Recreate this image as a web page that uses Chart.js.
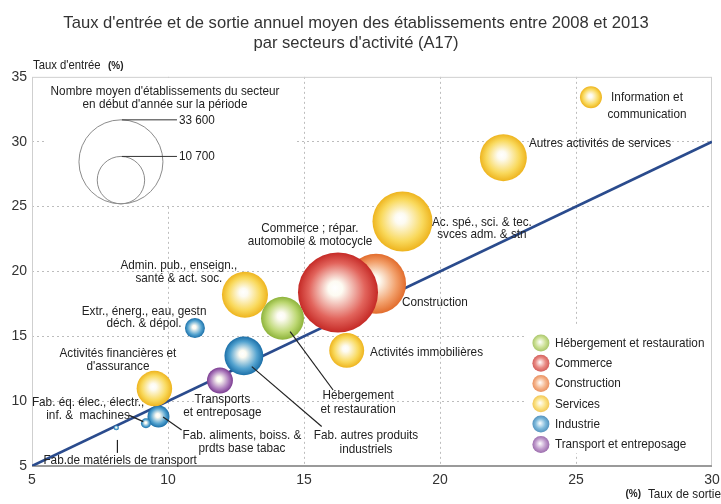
<!DOCTYPE html>
<html lang="fr">
<head>
<meta charset="utf-8">
<title>Taux d'entrée et de sortie des établissements</title>
<script src="https://cdn.jsdelivr.net/npm/chart.js@4.4.1/dist/chart.umd.min.js"></script>
<style>
  html, body { margin: 0; padding: 0; background: #fff; }
  #wrap { width: 721px; height: 504px; }
</style>
</head>
<body>
<div id="wrap"><canvas id="chart" width="721" height="504"></canvas></div>
<script>
// ---- data ----
const groups = ['Hébergement et restauration', 'Commerce', 'Construction', 'Services', 'Industrie', 'Transport et entreposage'];

const sectors = [
    'Information et communication',
    'Autres activités de services',
    'Ac. spé., sci. & tec. svces adm. & stn',
    'Commerce ; répar. automobile & motocycle',
    'Construction',
    'Admin. pub., enseign., santé & act. soc.',
    'Hébergement et restauration',
    'Activités immobilières',
    'Extr., énerg., eau, gestn déch. & dépol.',
    'Fab. autres produits industriels',
    'Transports et entreposage',
    'Activités financières et d\'assurance',
    'Fab. aliments, boiss. & prdts base tabac',
    'Fab. éq. élec., électr., inf. & machines',
    'Fab.de matériels de transport'
];
const sectorGroup    = [3, 3, 3, 1, 2, 3, 0, 3, 4, 4, 5, 3, 4, 4, 4];
const exitRate       = [25.55, 22.33, 18.62, 16.25, 17.65, 12.83, 14.21, 16.57, 10.99, 12.79, 11.91, 9.50, 9.65, 9.19, 8.10];
const entryRate      = [33.43, 28.77, 23.85, 18.38, 19.05, 18.20, 16.39, 13.91, 15.63, 13.49, 11.59, 10.97, 8.81, 8.30, 7.95];
const establishments = [2300, 10500, 17100, 30500, 17100, 10100, 8800, 5800, 1900, 7200, 3200, 6000, 2300, 480, 120];

const sizeRefs = [33600, 10700];
const diagonal = [5, 30];
const xTicks = [5, 10, 15, 20, 25, 30];
const yTicks = [5, 10, 15, 20, 25, 30, 35];

// ---- styling ----
const groupColors = [
    { mid: '#bcd772', edge: '#8db33a' },
    { mid: '#e2645c', edge: '#c52a26' },
    { mid: '#f29f6a', edge: '#e26c2c' },
    { mid: '#f9d95c', edge: '#eeb41e' },
    { mid: '#52a2cf', edge: '#1b6fa8' },
    { mid: '#ad7dbd', edge: '#7c3d92' }
];
const REF_R = 42;          // pixel radius of the 33 600 circle
const REF_N = sizeRefs[0];
const radiusFor = n => REF_R * Math.sqrt(n / REF_N);

const SANS = '"Liberation Sans", Arial, sans-serif';
const NOTE_FONT = '13.5px ' + SANS;
const NARROW_K = 0.87;     // horizontal squeeze, stands in for Arial Narrow

// text annotations, anchored in data units
const notes = [
    { lines: ['Information et', 'communication'], x: 27.61, y: 33.43, lh: 17.5, align: 'center' },
    { lines: ['Autres activités de services'], x: 23.27, y: 29.91, align: 'left' },
    { lines: ['Ac. spé., sci. & tec.', 'svces adm. & stn'], x: 21.54, y: 23.82, lh: 12.5, align: 'center' },
    { lines: ['Commerce ; répar.', 'automobile & motocycle'], x: 15.22, y: 23.30, lh: 13, align: 'center' },
    { lines: ['Construction'], x: 18.60, y: 17.65, align: 'left' },
    { lines: ['Activités immobilières'], x: 17.43, y: 13.79, align: 'left' },
    { lines: ['Admin. pub., enseign.,', 'santé & act. soc.'], x: 10.40, y: 20.50, lh: 13, align: 'center' },
    { lines: ['Extr., énerg., eau, gestn', 'déch. & dépol.'], x: 9.12, y: 16.95, lh: 12.5, align: 'center' },
    { lines: ['Activités financières et', 'd\'assurance'], x: 8.16, y: 13.72, lh: 13.5, align: 'center' },
    { lines: ['Fab. éq. élec., électr.,', 'inf. &  machines'], x: 7.06, y: 9.94, lh: 13, align: 'center' },
    { lines: ['Transports', 'et entreposage'], x: 12.00, y: 10.17, lh: 13.7, align: 'center' },
    { lines: ['Fab. aliments, boiss. &', 'prdts base tabac'], x: 12.72, y: 7.39, lh: 13, align: 'center' },
    { lines: ['Hébergement', 'et restauration'], x: 16.99, y: 10.42, lh: 13.6, align: 'center' },
    { lines: ['Fab. autres produits', 'industriels'], x: 17.28, y: 7.39, lh: 14, align: 'center' },
    { lines: ['Fab.de matériels de transport'], x: 8.24, y: 5.46, align: 'center' },
    { lines: ['Nombre moyen d\'établissements du secteur', 'en début d\'année sur la période'], x: 9.89, y: 33.92, lh: 13, align: 'center' }
];
const pointers = [
    [14.49, 15.36, 16.07, 10.86],
    [13.08, 12.66, 15.65, 8.04],
    [9.82, 8.78, 10.50, 7.78],
    [8.54, 8.94, 9.09, 8.42],
    [8.14, 7.01, 8.14, 6.01]
];
const whiteBoxes = [
    { x0: 5.55, x1: 14.67, y0: 34.92, y1: 25.05 },
    { x0: 23.13, x1: 29.96, y0: 15.87, y1: 5.99 }
];
const sizeLegend = { x: 8.27, bottom: 25.21, lineTo: 10.33 };
const groupLegend = { x: 23.71, y: 14.49, step: 20.3 };

function bubbleFill(ctx) {
    const col = groupColors[ctx.datasetIndex];
    if (ctx.type !== 'data' || !ctx.raw) return col.edge;
    const chart = ctx.chart;
    const px = chart.scales.x.getPixelForValue(ctx.raw.x);
    const py = chart.scales.y.getPixelForValue(ctx.raw.y);
    const r = Math.max(ctx.raw.r, 1);
    if (!isFinite(px) || !isFinite(py) || !isFinite(r)) return col.edge;
    const g = chart.ctx.createRadialGradient(px - r * 0.08, py - r * 0.12, 0, px, py, r);
    g.addColorStop(0, '#ffffff');
    g.addColorStop(0.18, '#fdfbf2');
    g.addColorStop(0.7, col.mid);
    g.addColorStop(1, col.edge);
    return g;
}

const bubbleSets = groups.map((name, gi) => ({
    type: 'bubble',
    label: name,
    order: 1,
    data: sectors.map((s, i) => ({ x: exitRate[i], y: entryRate[i], r: radiusFor(establishments[i]), name: s }))
                 .filter((p, i) => sectorGroup[i] === gi),
    backgroundColor: bubbleFill,
    borderWidth: 0,
    hoverRadius: 0
}));

const diagonalSet = {
    type: 'line',
    label: 'diagonale',
    order: 10,
    data: diagonal.map(v => ({ x: v, y: v })),
    borderColor: '#2a4b8d',
    borderWidth: 2.6,
    pointRadius: 0,
    fill: false
};

function narrowText(ctx, text, px, py, align) {
    ctx.save();
    ctx.translate(px, py);
    ctx.scale(NARROW_K, 1);
    ctx.textAlign = align;
    ctx.textBaseline = 'middle';
    ctx.fillText(text, 0, 0);
    ctx.restore();
}

const decorations = {
    id: 'decorations',
    beforeDatasetsDraw(chart) {
        const { ctx, chartArea: a, scales: { x, y } } = chart;
        ctx.save();
        ctx.fillStyle = '#ffffff';
        whiteBoxes.forEach(b => {
            const x0 = x.getPixelForValue(b.x0), x1 = x.getPixelForValue(b.x1);
            const y0 = y.getPixelForValue(b.y0), y1 = y.getPixelForValue(b.y1);
            ctx.fillRect(x0, y0, x1 - x0, y1 - y0);
        });
        ctx.strokeStyle = '#cfcfcf';
        ctx.lineWidth = 1;
        ctx.strokeRect(a.left + 0.5, a.top + 0.5, a.width - 1, a.height - 1);
        ctx.strokeStyle = '#9a9a9a';
        ctx.lineWidth = 2;
        ctx.beginPath();
        ctx.moveTo(a.left, a.bottom);
        ctx.lineTo(a.right, a.bottom);
        ctx.stroke();

        // size legend circles
        const cx = x.getPixelForValue(sizeLegend.x);
        const by = y.getPixelForValue(sizeLegend.bottom);
        const lx = x.getPixelForValue(sizeLegend.lineTo);
        ctx.strokeStyle = '#8c8c8c';
        ctx.lineWidth = 1;
        sizeRefs.forEach(n => {
            const r = radiusFor(n);
            ctx.beginPath();
            ctx.arc(cx, by - r, r, 0, Math.PI * 2);
            ctx.stroke();
        });
        ctx.strokeStyle = '#333';
        ctx.fillStyle = '#222';
        ctx.font = NOTE_FONT;
        sizeRefs.forEach(n => {
            const top = by - 2 * radiusFor(n);
            ctx.beginPath();
            ctx.moveTo(cx + 1, top);
            ctx.lineTo(lx, top);
            ctx.stroke();
            narrowText(ctx, n.toLocaleString('fr-FR').replace(/\u202f|\u00a0/g, ' '), lx + 2, top, 'left');
        });
        ctx.restore();
    },
    afterDatasetsDraw(chart) {
        const { ctx, chartArea: a, scales: { x, y } } = chart;
        ctx.save();
        // pointer lines
        ctx.strokeStyle = '#222';
        ctx.lineWidth = 1.2;
        pointers.forEach(p => {
            ctx.beginPath();
            ctx.moveTo(x.getPixelForValue(p[0]), y.getPixelForValue(p[1]));
            ctx.lineTo(x.getPixelForValue(p[2]), y.getPixelForValue(p[3]));
            ctx.stroke();
        });
        // labels
        ctx.fillStyle = '#222';
        ctx.font = NOTE_FONT;
        notes.forEach(n => {
            const px = x.getPixelForValue(n.x), py = y.getPixelForValue(n.y);
            n.lines.forEach((t, k) => narrowText(ctx, t, px, py + k * (n.lh || 13), n.align));
        });

        // group legend
        const gx = x.getPixelForValue(groupLegend.x);
        const gy = y.getPixelForValue(groupLegend.y);
        groups.forEach((name, gi) => {
            const cy = gy + gi * groupLegend.step;
            const col = groupColors[gi];
            const g = ctx.createRadialGradient(gx - 1, cy - 1, 0, gx, cy, 8.5);
            g.addColorStop(0, '#ffffff');
            g.addColorStop(0.6, col.mid);
            g.addColorStop(1, col.edge);
            ctx.globalAlpha = 0.75;
            ctx.fillStyle = g;
            ctx.beginPath();
            ctx.arc(gx, cy, 8.5, 0, Math.PI * 2);
            ctx.fill();
            ctx.globalAlpha = 1;
            ctx.fillStyle = '#222';
            narrowText(ctx, name, gx + 14, cy, 'left');
        });

        // axis titles
        ctx.font = '13px ' + SANS;
        narrowText(ctx, 'Taux d\'entrée', a.left + 1, a.top - 11, 'left');
        ctx.font = 'bold 10px ' + SANS;
        ctx.textAlign = 'left';
        ctx.textBaseline = 'middle';
        ctx.fillText('(%)', a.left + 76, a.top - 11);
        ctx.font = '13.5px ' + SANS;
        narrowText(ctx, 'Taux de sortie', 721, a.bottom + 28, 'right');
        ctx.font = 'bold 10px ' + SANS;
        ctx.textAlign = 'right';
        ctx.fillText('(%)', 641, a.bottom + 28);
        ctx.restore();
    }
};

const edgeless = (ticks) => (c) => (c.tick && (c.tick.value === ticks[0] || c.tick.value === ticks[ticks.length - 1])) ? 'rgba(0,0,0,0)' : '#bdbdbd';

new Chart(document.getElementById('chart'), {
    data: { datasets: [...bubbleSets, diagonalSet] },
    options: {
        responsive: false,
        animation: false,
        events: [],
        layout: { autoPadding: false, padding: { left: 0, right: 9, top: 0, bottom: 0 } },
        plugins: {
            legend: { display: false },
            tooltip: { enabled: false },
            title: {
                display: true,
                text: ['Taux d\'entrée et de sortie annuel moyen des établissements entre 2008 et 2013',
                       'par secteurs d\'activité (A17)'],
                color: '#333',
                font: { family: SANS, size: 16.6, weight: 'normal', lineHeight: 1.17 },
                padding: { top: 14, bottom: 24 }
            }
        },
        scales: {
            x: {
                type: 'linear',
                min: xTicks[0],
                max: xTicks[xTicks.length - 1],
                afterBuildTicks: s => { s.ticks = xTicks.map(v => ({ value: v })); },
                afterFit: s => { s.height = 38; s.paddingLeft = 0; s.paddingRight = 0; },
                ticks: { color: '#333', padding: 6, font: { family: SANS, size: 14 } },
                grid: { color: edgeless(xTicks), lineWidth: 1, drawTicks: false },
                border: { display: false, dash: [2, 3] }
            },
            y: {
                type: 'linear',
                min: yTicks[0],
                max: yTicks[yTicks.length - 1],
                afterBuildTicks: s => { s.ticks = yTicks.map(v => ({ value: v })); },
                afterFit: s => { s.width = 32; s.paddingTop = 0; s.paddingBottom = 0; },
                ticks: { color: '#333', padding: 5, font: { family: SANS, size: 14 } },
                grid: { color: edgeless(yTicks), lineWidth: 1, drawTicks: false },
                border: { display: false, dash: [2, 3] }
            }
        }
    },
    plugins: [decorations]
});
</script>
</body>
</html>
